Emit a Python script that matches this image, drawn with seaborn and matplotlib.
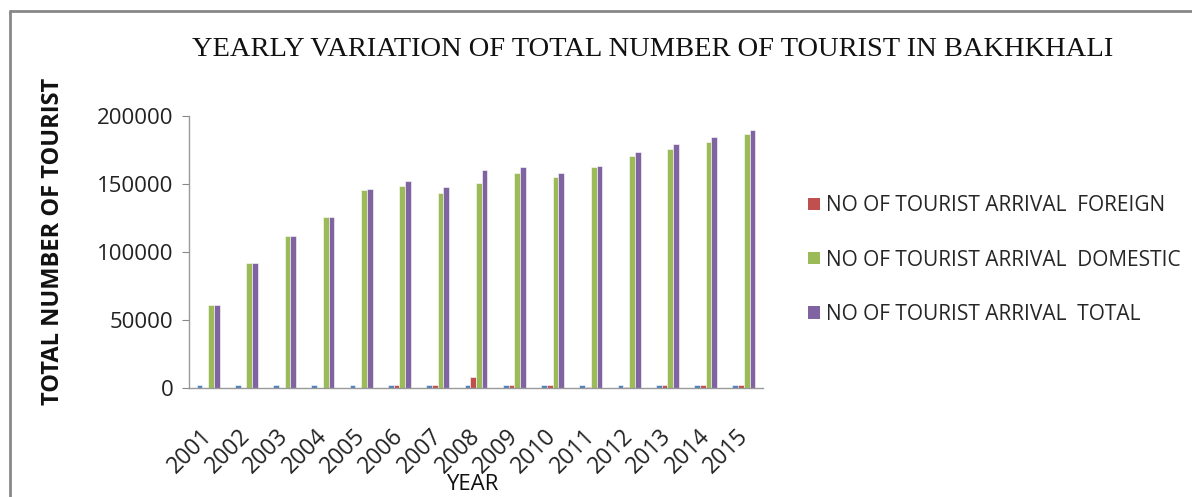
import matplotlib
matplotlib.use("Agg")
import matplotlib.pyplot as plt
import matplotlib.transforms as mtransforms
import seaborn as sns
import pandas as pd
from matplotlib.lines import Line2D
from matplotlib.patches import Patch

years = [2001, 2002, 2003, 2004, 2005, 2006, 2007, 2008, 2009, 2010, 2011, 2012, 2013, 2014, 2015]
year_series = [2001, 2002, 2003, 2004, 2005, 2006, 2007, 2008, 2009, 2010, 2011, 2012, 2013, 2014, 2015]
foreign = [200, 250, 300, 300, 350, 2200, 2300, 8200, 1900, 1900, 1000, 1000, 1900, 1900, 1900]
domestic = [60800, 91700, 111700, 125600, 145500, 148700, 143300, 150500, 158200, 154800, 162300, 170800, 175900, 181000, 186400]
total = [60900, 91800, 111900, 125800, 146500, 152000, 147500, 160000, 162300, 158200, 163500, 173800, 179100, 184400, 189500]

series_names = ["YEAR", "NO OF TOURIST ARRIVAL  FOREIGN", "NO OF TOURIST ARRIVAL  DOMESTIC", "NO OF TOURIST ARRIVAL  TOTAL"]
colors = ["#4F81BD", "#C0504D", "#9BBB59", "#8064A2"]
yticks = [0, 50000, 100000, 150000, 200000]

rows = []
for name, vals in zip(series_names, [year_series, foreign, domestic, total]):
    for y, v in zip(years, vals):
        rows.append({"year": str(y), "series": name, "value": v})
df = pd.DataFrame(rows)

sns.set_theme(style="white")
plt.rcParams["font.family"] = ["Open Sans", "DejaVu Sans"]

fig = plt.figure(figsize=(11.92, 4.97), dpi=100)
ax = fig.add_axes([189/1192, 1-388/497, (763-189)/1192, (388-116)/497])

sns.barplot(data=df, x="year", y="value", hue="series", hue_order=series_names,
            palette=colors, width=0.6, ax=ax, legend=False,
            edgecolor="white", linewidth=0.4, saturation=1)

ax.set_ylim(0, 200000)
ax.set_xlim(-0.5, len(years) - 0.5)
ax.set_yticks(yticks)
ax.set_yticklabels([str(t) for t in yticks], fontsize=16, color="#222222")
ax.tick_params(axis="y", which="both", left=True, length=5, width=0.8, color="#888888", pad=6)
ax.tick_params(axis="x", bottom=False, pad=20)
offset = mtransforms.ScaledTranslation(-8/100, 0, fig.dpi_scale_trans)
for lbl in ax.get_xticklabels():
    lbl.set_rotation(45)
    lbl.set_ha("right")
    lbl.set_rotation_mode("anchor")
    lbl.set_fontsize(16.5)
    lbl.set_color("#222222")
    lbl.set_transform(lbl.get_transform() + offset)

for side in ["top", "right"]:
    ax.spines[side].set_visible(False)
for side in ["left", "bottom"]:
    ax.spines[side].set_color("#999999")
    ax.spines[side].set_linewidth(1.0)

ax.set_xlabel("YEAR", fontsize=16, color="#111111", va="center")
ax.xaxis.set_label_coords((472-189)/(763-189), (388-485)/(388-116))
ax.set_ylabel("TOTAL NUMBER OF TOURIST", fontsize=17, fontweight="bold", color="#111111", va="center")
ax.yaxis.set_label_coords((53-189)/(763-189), (388-241)/(388-116))

fig.text(653/1192, 1-49/497, "YEARLY VARIATION OF TOTAL NUMBER OF TOURIST IN BAKHKHALI",
         family="Liberation Serif", fontsize=20.5, ha="center", va="center", color="#111111")

handles = [Patch(facecolor=c, edgecolor="none") for c in colors[1:]]
fig.legend(handles, series_names[1:], loc="center left", bbox_to_anchor=(800/1192, 1-260/497),
           frameon=False, fontsize=15, handlelength=0.55, handleheight=0.55, handletextpad=0.3,
           labelspacing=1.6, borderaxespad=0)

fig.add_artist(Line2D([10/1192, 1], [1-11/497, 1-11/497], transform=fig.transFigure, color="#888888", lw=2))
fig.add_artist(Line2D([10/1192, 10/1192], [0, 1-11/497], transform=fig.transFigure, color="#888888", lw=2))

fig.savefig("out.png", dpi=100)
